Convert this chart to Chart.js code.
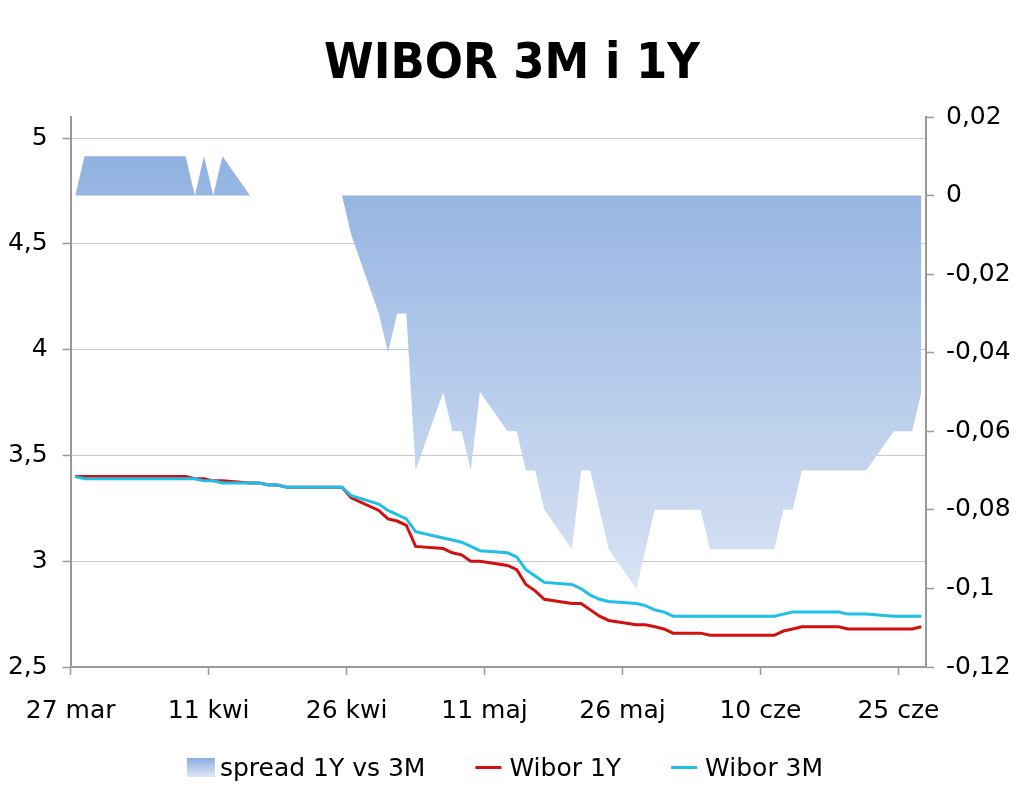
<!DOCTYPE html>
<html>
<head>
<meta charset="utf-8">
<title>WIBOR 3M i 1Y</title>
<script src="https://cdn.jsdelivr.net/npm/chart.js@4.4.1/dist/chart.umd.min.js"></script>
<style>
  html, body { margin: 0; padding: 0; background: #fff; }
  canvas { display: block; }
</style>
</head>
<body>
<canvas id="chart" width="1024" height="791"></canvas>
<script>
// fixing dates (business days, 2013)
const dates = [
  '2013-03-27', '2013-03-28', '2013-03-29',
  '2013-04-01', '2013-04-02', '2013-04-03', '2013-04-04', '2013-04-05',
  '2013-04-08', '2013-04-09', '2013-04-10', '2013-04-11', '2013-04-12',
  '2013-04-15', '2013-04-16', '2013-04-17', '2013-04-18', '2013-04-19',
  '2013-04-22', '2013-04-23', '2013-04-24', '2013-04-25', '2013-04-26',
  '2013-04-29', '2013-04-30', '2013-05-01', '2013-05-02', '2013-05-03',
  '2013-05-06', '2013-05-07', '2013-05-08', '2013-05-09', '2013-05-10',
  '2013-05-13', '2013-05-14', '2013-05-15', '2013-05-16', '2013-05-17',
  '2013-05-20', '2013-05-21', '2013-05-22', '2013-05-23', '2013-05-24',
  '2013-05-27', '2013-05-28', '2013-05-29', '2013-05-30', '2013-05-31',
  '2013-06-03', '2013-06-04', '2013-06-05', '2013-06-06', '2013-06-07',
  '2013-06-10', '2013-06-11', '2013-06-12', '2013-06-13', '2013-06-14',
  '2013-06-17', '2013-06-18', '2013-06-19', '2013-06-20', '2013-06-21',
  '2013-06-24', '2013-06-25', '2013-06-26', '2013-06-27'
];

const wibor3m = [
  3.40, 3.39, 3.39,
  3.39, 3.39, 3.39, 3.39, 3.39,
  3.39, 3.39, 3.38, 3.38, 3.37,
  3.37, 3.37, 3.36, 3.36, 3.35,
  3.35, 3.35, 3.35, 3.35, 3.31,
  3.27, 3.24, 3.22, 3.20, 3.14,
  3.11, 3.10, 3.09, 3.07, 3.05,
  3.04, 3.02, 2.96, 2.93, 2.90,
  2.89, 2.87, 2.84, 2.82, 2.81,
  2.80, 2.79, 2.77, 2.76, 2.74,
  2.74, 2.74, 2.74, 2.74, 2.74,
  2.74, 2.74, 2.75, 2.76, 2.76,
  2.76, 2.76, 2.75, 2.75, 2.75,
  2.74, 2.74, 2.74, 2.74
];

const wibor1y = [
  3.40, 3.40, 3.40,
  3.40, 3.40, 3.40, 3.40, 3.40,
  3.40, 3.39, 3.39, 3.38, 3.38,
  3.37, 3.37, 3.36, 3.36, 3.35,
  3.35, 3.35, 3.35, 3.35, 3.30,
  3.24, 3.20, 3.19, 3.17, 3.07,
  3.06, 3.04, 3.03, 3.00, 3.00,
  2.98, 2.96, 2.89, 2.86, 2.82,
  2.80, 2.80, 2.77, 2.74, 2.72,
  2.70, 2.70, 2.69, 2.68, 2.66,
  2.66, 2.65, 2.65, 2.65, 2.65,
  2.65, 2.65, 2.67, 2.68, 2.69,
  2.69, 2.69, 2.68, 2.68, 2.68,
  2.68, 2.68, 2.68, 2.69
];

const spread = [
  0.00, 0.01, 0.01,
  0.01, 0.01, 0.01, 0.01, 0.01,
  0.01, 0.00, 0.01, 0.00, 0.01,
  0.00, 0.00, 0.00, 0.00, 0.00,
  0.00, 0.00, 0.00, 0.00, -0.01,
  -0.03, -0.04, -0.03, -0.03, -0.07,
  -0.05, -0.06, -0.06, -0.07, -0.05,
  -0.06, -0.06, -0.07, -0.07, -0.08,
  -0.09, -0.07, -0.07, -0.08, -0.09,
  -0.10, -0.09, -0.08, -0.08, -0.08,
  -0.08, -0.09, -0.09, -0.09, -0.09,
  -0.09, -0.09, -0.08, -0.08, -0.07,
  -0.07, -0.07, -0.07, -0.07, -0.07,
  -0.06, -0.06, -0.06, -0.05
];

const xTickLabels = ['27 mar', '11 kwi', '26 kwi', '11 maj', '26 maj', '10 cze', '25 cze'];
const leftTicks = [2.5, 3, 3.5, 4, 4.5, 5];
const rightTicks = [0.02, 0, -0.02, -0.04, -0.06, -0.08, -0.1, -0.12];

const RED = '#d40f0f';
const CYAN = '#1fbfe8';
const AXIS = '#999999';
const FONT_FAMILY = '"DejaVu Sans", Verdana, sans-serif';
const TICK_FONT = { family: FONT_FAMILY, size: 25 };

// day number counted from the first date
const start = Date.parse(dates[0]);
const dayOf = d => Math.round((Date.parse(d) - start) / 86400000);
const toPoints = vals => dates.map((d, i) => ({ x: dayOf(d), y: vals[i] }));

// Polish decimal comma, no trailing zeros
const plNum = v => String(Number(v.toFixed(2))).replace('.', ',');

function spreadFill(context) {
  const area = context.chart.chartArea;
  if (!area) return '#9db8e4';
  const g = context.chart.ctx.createLinearGradient(0, area.top, 0, area.bottom);
  g.addColorStop(0, '#8aaddf');
  g.addColorStop(1, '#e6ecf7');
  return g;
}

// legend drawn under the plot: swatch + text
const bottomLegend = {
  id: 'bottomLegend',
  afterDraw(chart) {
    const ctx = chart.ctx;
    const ds = chart.data.datasets;
    const items = [ds[2], ds[1], ds[0]];
    const baseY = 776;
    ctx.save();
    ctx.font = '25px ' + FONT_FAMILY;
    ctx.textBaseline = 'alphabetic';
    const boxW = 28, boxGap = 5, lineW = 26, lineGap = 8, spacing = 50;
    const widths = items.map(it => ctx.measureText(it.label).width);
    let total = spacing * (items.length - 1);
    items.forEach((it, i) => {
      total += (it.fill ? boxW + boxGap : lineW + lineGap) + widths[i];
    });
    let x = 505 - total / 2;
    items.forEach((it, i) => {
      let sw;
      if (it.fill) {
        const g = ctx.createLinearGradient(0, 758, 0, 777);
        g.addColorStop(0, '#8aaddf');
        g.addColorStop(1, '#dfe7f5');
        ctx.fillStyle = g;
        ctx.fillRect(x, 758, boxW, 19);
        sw = boxW + boxGap;
      } else {
        ctx.strokeStyle = it.borderColor;
        ctx.lineWidth = 3;
        ctx.beginPath();
        ctx.moveTo(x, 767.5);
        ctx.lineTo(x + lineW, 767.5);
        ctx.stroke();
        sw = lineW + lineGap;
      }
      ctx.fillStyle = '#000';
      ctx.fillText(it.label, x + sw, baseY);
      x += sw + widths[i] + spacing;
    });
    ctx.restore();
  }
};

new Chart(document.getElementById('chart'), {
  type: 'line',
  data: {
    datasets: [
      {
        label: 'Wibor 3M',
        data: toPoints(wibor3m),
        yAxisID: 'y',
        borderColor: CYAN,
        borderWidth: 3,
        pointRadius: 0,
        tension: 0,
        fill: false
      },
      {
        label: 'Wibor 1Y',
        data: toPoints(wibor1y),
        yAxisID: 'y',
        borderColor: RED,
        borderWidth: 3,
        pointRadius: 0,
        tension: 0,
        fill: false
      },
      {
        label: 'spread 1Y vs 3M',
        data: toPoints(spread),
        yAxisID: 'y1',
        borderColor: 'rgba(0,0,0,0)',
        borderWidth: 0,
        backgroundColor: spreadFill,
        pointRadius: 0,
        tension: 0,
        fill: 'origin'
      }
    ]
  },
  options: {
    responsive: false,
    animation: false,
    layout: { padding: { top: 0, left: 0, right: 0, bottom: 64 } },
    plugins: {
      legend: { display: false },
      tooltip: { enabled: false },
      title: {
        display: true,
        text: 'WIBOR 3M i 1Y',
        color: '#000',
        font: { family: '"DejaVu Sans Condensed", "DejaVu Sans", sans-serif', size: 50, weight: 'bold' },
        padding: { top: 35, bottom: 22 }
      }
    },
    scales: {
      x: {
        type: 'linear',
        min: -0.5,
        max: 92.5,
        afterBuildTicks: scale => {
          scale.ticks = xTickLabels.map((_, i) => ({ value: i * 15 - 0.5 }));
        },
        afterFit: scale => { scale.height = 60; },
        grid: { drawOnChartArea: false, drawTicks: true, tickLength: 8, tickColor: AXIS, tickWidth: 1.5 },
        border: { display: true, color: AXIS, width: 2 },
        ticks: {
          autoSkip: false,
          maxRotation: 0,
          color: '#000',
          font: TICK_FONT,
          padding: 21,
          callback: (v, i) => xTickLabels[i]
        }
      },
      y: {
        position: 'left',
        min: 2.5,
        max: 5.1,
        afterBuildTicks: scale => {
          scale.ticks = leftTicks.map(v => ({ value: v }));
        },
        afterFit: scale => { scale.width = 70.7; },
        grid: { color: '#c8c8c8', lineWidth: 1, drawTicks: true, tickLength: 8, tickColor: AXIS, tickWidth: 1.5 },
        border: { display: true, color: AXIS, width: 2 },
        ticks: {
          color: '#000',
          font: TICK_FONT,
          padding: 15,
          callback: v => plNum(v)
        }
      },
      y1: {
        position: 'right',
        min: -0.12,
        max: 0.02,
        afterBuildTicks: scale => {
          scale.ticks = rightTicks.map(v => ({ value: v }));
        },
        afterFit: scale => { scale.width = 98; },
        grid: { drawOnChartArea: false, drawTicks: true, tickLength: 8, tickColor: AXIS, tickWidth: 1.5 },
        border: { display: true, color: AXIS, width: 2 },
        ticks: {
          color: '#000',
          font: TICK_FONT,
          padding: 12,
          crossAlign: 'near',
          callback: v => plNum(v)
        }
      }
    }
  },
  plugins: [bottomLegend]
});
</script>
</body>
</html>
